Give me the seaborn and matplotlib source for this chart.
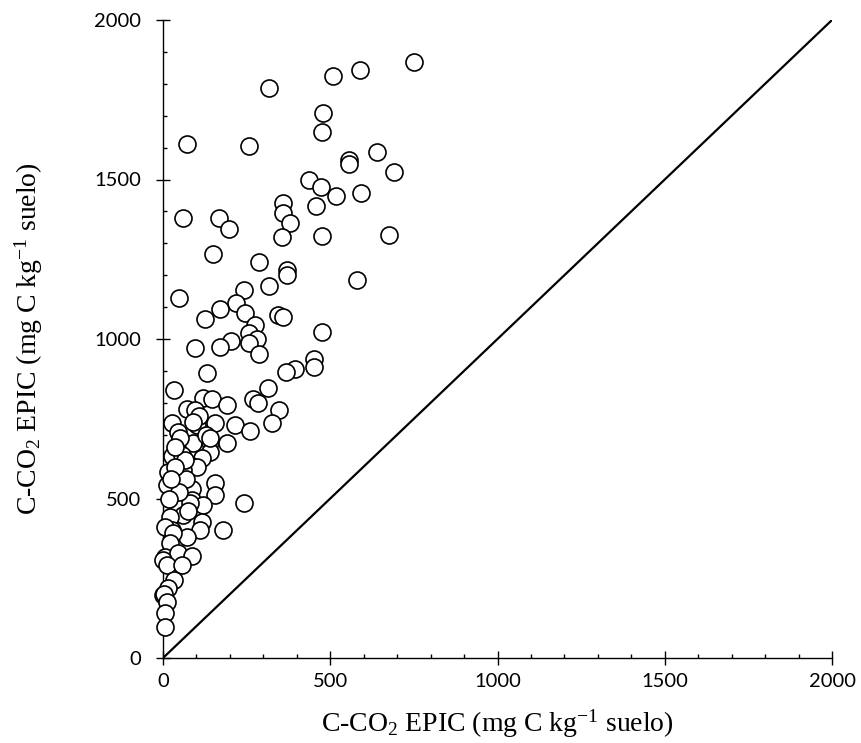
import matplotlib
matplotlib.use("Agg")
import matplotlib.pyplot as plt
import seaborn as sns
import pandas as pd
from matplotlib.ticker import MultipleLocator

# Observed vs simulated C-CO2 (mg C kg-1 suelo)
x_obs = [750, 589, 508, 317, 478, 475, 72, 257, 640, 556, 556, 691, 436, 472, 591, 517,
         358, 358, 457, 380, 61, 167, 198, 355, 476, 676,
         150, 287, 371, 371, 580, 242, 317, 48, 218, 170, 245, 344, 358, 126, 275, 257,
         475, 281, 203, 257, 96, 170, 287, 451, 451, 395, 368, 132, 33, 314, 120, 146,
         268, 284, 191, 72, 96, 347, 27, 102, 155, 215, 326, 45, 260, 90, 141, 191, 141,
         27, 57, 117, 81, 101, 15, 60, 12, 57, 87, 155, 155, 242, 87, 42, 120, 81, 60, 21,
         117, 111, 179, 27, 6, 72, 30, 21, 6, 45, 87, 0, 12, 57, 33, 15, 0, 2, 12, 6, 6,
         69, 130, 66, 108, 36, 90, 48, 75, 24, 140, 18, 50, 36]
y_sim = [1868, 1843, 1824, 1787, 1708, 1649, 1611, 1605, 1586, 1561, 1548, 1523, 1498, 1476, 1457, 1448,
         1426, 1395, 1417, 1364, 1379, 1380, 1345, 1320, 1323, 1326,
         1266, 1241, 1216, 1201, 1185, 1154, 1166, 1128, 1113, 1094, 1082, 1075, 1069, 1063, 1044, 1019,
         1022, 1000, 994, 987, 972, 975, 953, 937, 912, 906, 897, 893, 840, 846, 815, 812,
         812, 800, 793, 780, 777, 777, 736, 730, 737, 730, 737, 709, 712, 674, 677, 674, 646,
         633, 636, 627, 605, 599, 583, 589, 542, 536, 530, 548, 511, 486, 495, 480, 480, 486, 448, 442,
         426, 401, 401, 401, 411, 379, 392, 360, 317, 329, 320, 307, 292, 292, 245, 219, 197, 200, 175, 141, 97,
         560, 700, 620, 760, 600, 740, 520, 460, 560, 690, 500, 690, 660]

line_x = [0, 2000]
line_y = [0, 2000]

x_ticks = [0, 500, 1000, 1500, 2000]
y_ticks = [0, 500, 1000, 1500, 2000]
xlabel = "C-CO$_2$ EPIC (mg C kg$^{-1}$ suelo)"
ylabel = "C-CO$_2$ EPIC (mg C kg$^{-1}$ suelo)"

df = pd.DataFrame({"obs": x_obs, "sim": y_sim})

sns.set_theme(style="ticks")
plt.rcParams["font.family"] = ["Lato", "DejaVu Sans"]
plt.rcParams["mathtext.fontset"] = "custom"
plt.rcParams["mathtext.rm"] = "Liberation Serif"
plt.rcParams["mathtext.it"] = "Liberation Serif:italic"
plt.rcParams["mathtext.default"] = "rm"

fig = plt.figure(figsize=(8.61, 7.43), dpi=100)
ax = fig.add_axes([163/861, 1 - 658/743, (832-163)/861, (658-20)/743])

sns.lineplot(x=line_x, y=line_y, ax=ax, color="black", linewidth=1.6, zorder=1)
sns.scatterplot(data=df, x="obs", y="sim", ax=ax, s=150, facecolor="white",
                edgecolor="black", linewidth=1.2, zorder=3, clip_on=False)

ax.set_xlim(0, 2000)
ax.set_ylim(0, 2000)
ax.set_xticks(x_ticks)
ax.set_yticks(y_ticks)
ax.xaxis.set_minor_locator(MultipleLocator(100))
ax.yaxis.set_minor_locator(MultipleLocator(100))
ax.tick_params(which="major", direction="inout", length=10, width=1, color="black",
               labelsize=14.5, labelcolor="black")
ax.tick_params(axis="x", which="major", pad=6)
ax.tick_params(axis="y", which="major", pad=11)
ax.tick_params(which="minor", direction="in", length=3, width=1, color="black")

for s in ["top", "right"]:
    ax.spines[s].set_visible(False)
for s in ["left", "bottom"]:
    ax.spines[s].set_color("black")
    ax.spines[s].set_linewidth(1)

ax.set_xlabel(xlabel, fontsize=20, family="Liberation Serif", color="black")
ax.set_ylabel(ylabel, fontsize=20, family="Liberation Serif", color="black")
ax.xaxis.set_label_coords(0.5, -0.077)
ax.yaxis.set_label_coords(-0.177, 0.5)

fig.savefig("out.png", dpi=100)
